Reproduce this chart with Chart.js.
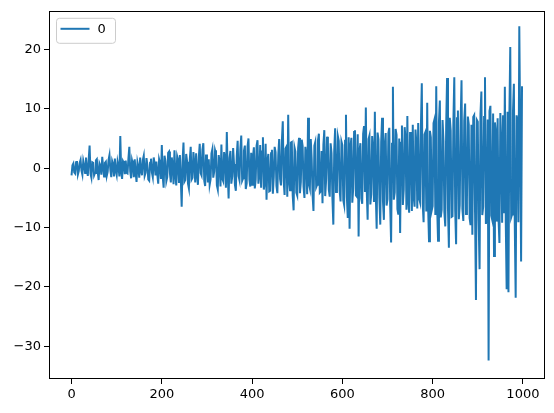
<!DOCTYPE html>
<html>
<head>
<meta charset="utf-8">
<script src="https://cdn.jsdelivr.net/npm/chart.js@4/dist/chart.umd.min.js"></script>
<style>
  body { margin: 0; background: #fff; }
  #wrap { width: 554px; height: 413px; }
</style>
</head>
<body>
<div id="wrap"><canvas id="chart" width="554" height="413"></canvas></div>
<script>
// DATA (one value every 2 index steps)
var seriesName = "0";
var step = 2;
var values = [
  // 0 - 98
  -1.2, 0.5, 0.8, -0.7, -0.9, 1.0, 1.2, -1.1, -0.5, 0.9, 1.4, -0.4, -1.1, 1.3, 0.6, -0.8, 1.8, -0.2, -1.3, 1.5, 3.8, -0.9, -1.6, 1.0, 0.9,
  -1.2, -0.8, 1.3, 1.5, -0.6, -2.0, 0.8, 0.4, -1.1, 1.9, 0.2, -1.4, 0.9, 1.1, -1.3, -0.6, 1.4, 2.2, -0.3, -1.5, 1.2, 0.7, -1.4, 1.6, -0.5,
  // 100 - 198
  -1.2, 1.1, 0.3, -1.4, 5.4, -0.6, -1.8, 1.2, 0.9, -1.0, 1.3, -0.8, -0.9, 1.6, 3.6, -0.5, -1.7, 1.3, 0.6, -1.5, 1.5, -0.7, -2.3, 1.0, 0.2,
  -1.6, 1.8, -0.4, -1.2, 1.4, 2.1, -1.3, -0.8, 1.7, 0.5, -1.9, -2.1, 0.9, 1.6, -0.7, -1.5, 1.8, 0.8, -1.2, 1.1, -1.0, -2.6, 1.5, 0.9, -1.8,
  // 200 - 298
  3.9, -1.4, -3.3, 2.1, 1.2, -2.2, -1.5, 2.6, 2.8, -0.9, -2.4, 1.8, 0.6, -2.7, 3.0, -1.1, -2.9, 2.0, 1.4, -2.5, 2.2, -1.7, -6.5, 1.2, 4.3,
  -2.3, -2.0, 2.4, 1.1, -2.6, -3.4, 1.5, 3.6, -1.9, -1.6, 2.7, 0.8, -2.4, 2.5, -1.0, -2.8, 1.9, 4.1, -0.8, -1.2, 3.1, 4.2, -2.1, -3.0, 2.3,
  // 300 - 398
  1.0, -2.4, 1.5, -2.8, -1.9, 2.5, 3.2, -1.6, -0.6, 3.0, 2.4, -2.9, -3.6, 2.2, 0.9, -3.1, 4.0, -1.8, -2.2, 2.7, 1.8, -3.3, 6.1, -0.9, -5.1,
  1.7, 2.9, -2.6, -1.4, 3.4, 0.7, -2.8, -3.8, 2.0, 4.6, -1.3, -2.0, 3.2, 5.5, -2.1, -1.7, 2.9, 3.8, -3.5, -2.6, 3.7, 5.0, -1.9, -3.1, 2.6,
  // 400 - 498
  -2.8, 1.9, 3.5, -3.4, -1.9, 3.8, 4.7, -2.6, -1.2, 3.9, -3.3, 2.8, 5.2, -3.6, -2.5, 4.1, -5.3, 1.2, 2.4, -3.9, -3.8, 2.5, 3.1, -4.3, -1.5,
  3.6, 2.7, -3.0, -4.2, 2.2, 4.9, -1.8, -2.9, 4.6, 7.9, -2.2, -4.5, 3.3, 3.6, -4.8, 9.0, -2.1, -3.7, 4.3, 4.4, -4.6, -7.1, 3.5, 2.8, -4.1,
  // 500 - 598
  -4.6, 3.4, 5.1, -4.2, -2.3, 4.8, 3.7, -3.1, -5.0, 3.6, 2.1, -4.4, 8.5, -2.7, -3.4, 4.9, 1.6, -4.5, -7.2, 3.8, 4.4, -3.2, -2.8, 4.7, 5.8,
  -4.1, -3.9, 2.9, -5.9, 4.0, 6.4, -4.7, -2.0, 5.3, 3.9, -3.6, -4.8, 4.2, 2.5, -5.1, -9.5, 3.0, 6.7, -4.0, -3.3, 5.4, 4.6, -3.8, -5.6, 4.5,
  // 600 - 698
  3.9, -5.4, -6.2, 4.6, 9.0, -4.9, -8.4, 5.2, -10.2, 3.7, 5.1, -5.8, -3.5, 6.1, 6.4, -4.6, -4.8, 5.7, -11.5, 2.9, 4.2, -5.1, -6.0, 5.8, 7.1,
  -4.0, 10.2, -3.8, -8.7, 4.9, 5.5, -6.1, -4.4, 5.4, 3.0, -5.7, 9.5, -4.2, -10.2, 6.0, 4.8, -5.0, -9.5, 4.4, 8.5, -5.6, -8.7, 4.1, 5.9, -6.3,
  // 700 - 798
  -5.2, 5.9, 6.8, -6.4, -12.5, 4.1, 13.7, -5.3, -4.1, 6.6, 5.6, -6.9, -7.8, 5.0, -10.9, 4.3, 7.2, -6.2, -3.6, 6.9, 4.9, -7.0, 8.8, -5.5, -7.5,
  6.1, 3.4, -7.2, 7.3, -4.8, -6.5, 6.5, 4.2, -6.8, 7.6, -5.1, -5.7, 7.0, 14.3, -6.0, -9.1, 5.7, 6.1, -7.3, 11.0, -6.6, -12.3, 6.3, 5.2, -7.1,
  // 800 - 898
  -6.4, 7.6, 8.2, -7.9, 13.8, -6.5, -12.2, 7.8, 11.4, -8.3, -7.0, 8.1, 4.6, -7.4, -9.8, 7.2, 15.2, -6.8, -13.4, 8.5, 6.3, -8.2, -8.1, 7.9, 15.3,
  -7.1, -12.8, 8.4, 9.7, -8.6, -6.2, 7.5, 14.8, -6.9, -8.9, 8.0, 10.9, -7.7, -5.3, 8.7, 7.4, -8.4, -9.6, 7.3, -11.2, 8.6, 8.9, -7.6, -22.2, 8.1,
  // 900 - 998
  7.8, -8.8, -17.0, 9.1, 12.9, -7.9, -6.5, 8.6, 15.3, -9.4, -8.1, 8.2, -32.4, 9.6, 10.5, -8.0, -8.7, 9.2, -14.8, 7.7, 6.1, -9.0, 8.4, -8.5, -12.6,
  9.3, 4.0, -9.2, 8.9, -7.6, 13.7, -8.9, -20.4, 9.5, -20.9, 8.8, 20.4, -8.3, -7.8, 9.4, 14.2, -9.7, -21.8, 8.9, 7.8, -9.1, 23.9, 6.2, -15.7, 13.8
];
var xTicks = [0, 200, 400, 600, 800, 1000];
var yTicks = [-30, -20, -10, 0, 10, 20];

var blue = "#1f77b4";
var font = "DejaVu Sans";

var points = [];
for (var i = 0; i < values.length; i++) {
  points.push({ x: i * step, y: values[i] });
}

function minusSign(v) {
  return v < 0 ? "\u2212" + Math.abs(v) : "" + v;
}

// frame on all four sides + legend box
var framePlugin = {
  id: "frame",
  afterDraw: function (chart) {
    var ctx = chart.ctx;
    var a = chart.chartArea;
    ctx.save();
    ctx.strokeStyle = "#000";
    ctx.lineWidth = 1;
    ctx.strokeRect(Math.round(a.left) + 0.5, Math.round(a.top) + 0.5,
      Math.round(a.right - a.left) - 1, Math.round(a.bottom - a.top) - 1);

    // legend
    var lx = a.left + 7.5, ly = a.top + 7.5, lw = 59, lh = 25, r = 3;
    ctx.beginPath();
    ctx.moveTo(lx + r, ly);
    ctx.arcTo(lx + lw, ly, lx + lw, ly + lh, r);
    ctx.arcTo(lx + lw, ly + lh, lx, ly + lh, r);
    ctx.arcTo(lx, ly + lh, lx, ly, r);
    ctx.arcTo(lx, ly, lx + lw, ly, r);
    ctx.closePath();
    ctx.fillStyle = "rgba(255,255,255,0.8)";
    ctx.fill();
    ctx.strokeStyle = "#cccccc";
    ctx.lineWidth = 1;
    ctx.stroke();

    ctx.beginPath();
    ctx.moveTo(lx + 4, ly + 10.5);
    ctx.lineTo(lx + 33, ly + 10.5);
    ctx.strokeStyle = blue;
    ctx.lineWidth = 2;
    ctx.stroke();

    ctx.fillStyle = "#000";
    ctx.font = "13px '" + font + "'";
    ctx.textBaseline = "middle";
    ctx.fillText(chart.data.datasets[0].label, lx + 41, ly + 11);
    ctx.restore();
  }
};

new Chart(document.getElementById("chart"), {
  type: "line",
  data: {
    datasets: [{
      label: seriesName,
      data: points,
      borderColor: blue,
      borderWidth: 2,
      pointRadius: 0,
      tension: 0,
      fill: false
    }]
  },
  options: {
    responsive: false,
    animation: false,
    layout: { padding: { top: 10, right: 9, left: 0, bottom: 0 } },
    plugins: { legend: { display: false }, tooltip: { enabled: false } },
    scales: {
      x: {
        type: "linear",
        min: -49.95,
        max: 1048.95,
        afterBuildTicks: function (scale) {
          scale.ticks = xTicks.map(function (v) { return { value: v }; });
        },
        afterFit: function (scale) { scale.height = 34; },
        grid: { drawOnChartArea: false, tickLength: 5, color: "#000", tickColor: "#000" },
        border: { display: false },
        ticks: {
          color: "#000",
          padding: 3,
          maxRotation: 0,
          font: { family: font, size: 13 },
          callback: function (v) { return minusSign(v); }
        }
      },
      y: {
        min: -35.5,
        max: 26.5,
        afterBuildTicks: function (scale) {
          scale.ticks = yTicks.map(function (v) { return { value: v }; });
        },
        afterFit: function (scale) { scale.width = 49; },
        grid: { drawOnChartArea: false, tickLength: 5, color: "#000", tickColor: "#000" },
        border: { display: false },
        ticks: {
          color: "#000",
          padding: 3,
          font: { family: font, size: 13 },
          callback: function (v) { return minusSign(v); }
        }
      }
    }
  },
  plugins: [framePlugin]
});
</script>
</body>
</html>
